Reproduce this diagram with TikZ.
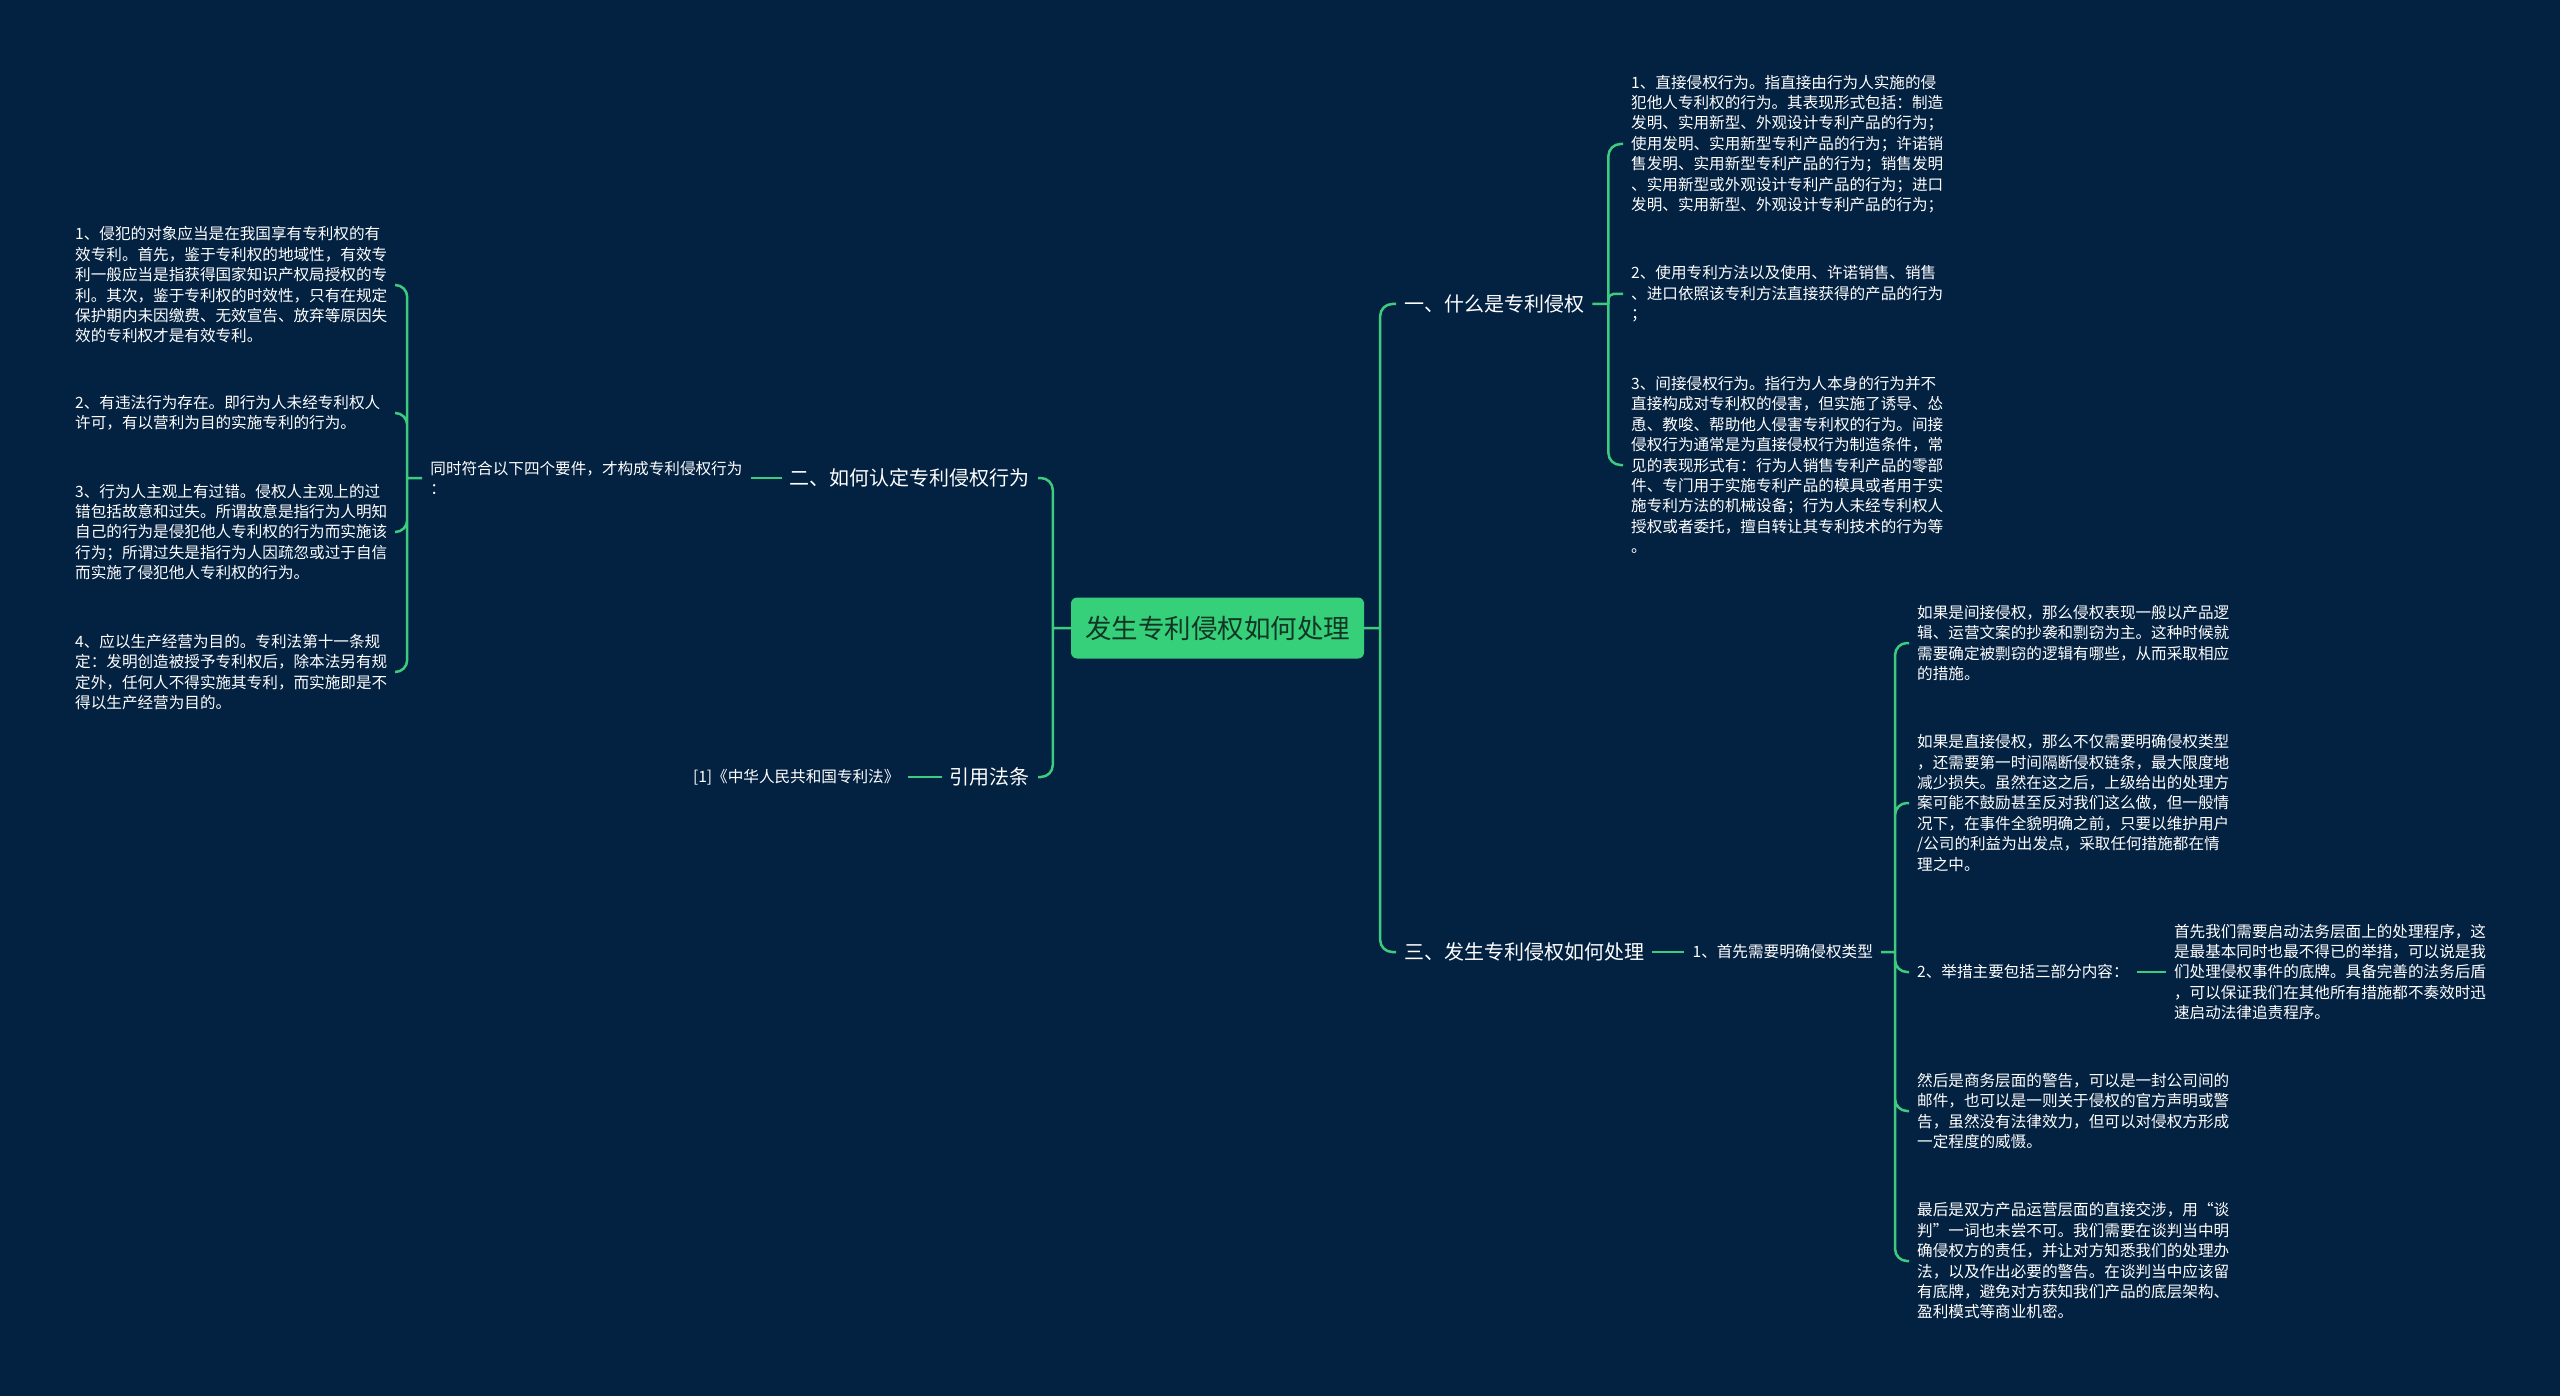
\documentclass[tikz,border=0pt]{standalone}
\usepackage{fontspec}
\newfontfamily\cjk{Noto Sans CJK SC}
\usetikzlibrary{positioning}
\definecolor{bgnavy}{HTML}{032140}
\definecolor{mapgreen}{HTML}{3CCB7F}
\definecolor{rootgreen}{HTML}{36D07B}
\definecolor{rootink}{HTML}{123524}

\begin{document}
\begin{tikzpicture}[
    x=1pt, y=-1pt,
    topic/.style={fill=rootgreen,rounded corners=6pt,minimum width=293pt,minimum height=61pt,inner sep=0pt,text=rootink,font=\cjk\fontsize{26.5pt}{30pt}\selectfont},
    branch/.style={text=white,inner xsep=8pt,inner ysep=2pt,font=\cjk\fontsize{20pt}{24pt}\selectfont},
    leaf/.style={text=white,inner xsep=8pt,inner ysep=0pt,align=left,font=\cjk\fontsize{15.6pt}{20.4pt}\selectfont},
    block/.style={leaf,text width=312pt},
    link/.style={draw=mapgreen,line width=2.5pt,rounded corners=12pt}
  ]
  \fill[bgnavy] (0,0) rectangle (2560,1396);
  \useasboundingbox (0,0) rectangle (2560,1396);

  % centre
  \node[topic] (root) at (1217.5,628) {发生专利侵权如何处理};
  \coordinate[right=16pt of root] (jr);
  \coordinate[left=18pt of root] (jl);

  \node[branch, anchor=west] (what) at (1396,304) {一、什么是专利侵权};
  \node[branch, anchor=west] (handle) at (1396,952) {三、发生专利侵权如何处理};
  \node[branch, anchor=east] (judge) at (1038,478) {二、如何认定专利侵权行为};
  \node[branch, anchor=east] (cite) at (1038,777) {引用法条};

  % 一
  \coordinate[right=16pt of what] (j1);
  \node[block, anchor=west] (direct) at (1623,144) {1、直接侵权行为。指直接由行为人实施的侵\\犯他人专利权的行为。其表现形式包括：制造\\发明、实用新型、外观设计专利产品的行为；\\使用发明、实用新型专利产品的行为；许诺销\\售发明、实用新型专利产品的行为；销售发明\\、实用新型或外观设计专利产品的行为；进口\\发明、实用新型、外观设计专利产品的行为；};
  \node[block, anchor=west] (method) at (1623,294) {2、使用专利方法以及使用、许诺销售、销售\\、进口依照该专利方法直接获得的产品的行为\\；};
  \node[block, anchor=west] (indirect) at (1623,465) {3、间接侵权行为。指行为人本身的行为并不\\直接构成对专利权的侵害，但实施了诱导、怂\\恿、教唆、帮助他人侵害专利权的行为。间接\\侵权行为通常是为直接侵权行为制造条件，常\\见的表现形式有：行为人销售专利产品的零部\\件、专门用于实施专利产品的模具或者用于实\\施专利方法的机械设备；行为人未经专利权人\\授权或者委托，擅自转让其专利技术的行为等\\。};

  % 二
  \node[leaf, left=31pt of judge] (rule) {同时符合以下四个要件，才构成专利侵权行为\\：};
  \coordinate[left=15pt of rule] (j2);
  \node[block, anchor=west] (object) at (67,285) {1、侵犯的对象应当是在我国享有专利权的有\\效专利。首先，鉴于专利权的地域性，有效专\\利一般应当是指获得国家知识产权局授权的专\\利。其次，鉴于专利权的时效性，只有在规定\\保护期内未因缴费、无效宣告、放弃等原因失\\效的专利权才是有效专利。};
  \node[block, anchor=west] (illegal) at (67,413) {2、有违法行为存在。即行为人未经专利权人\\许可，有以营利为目的实施专利的行为。};
  \node[block, anchor=west] (fault) at (67,532) {3、行为人主观上有过错。侵权人主观上的过\\错包括故意和过失。所谓故意是指行为人明知\\自己的行为是侵犯他人专利权的行为而实施该\\行为；所谓过失是指行为人因疏忽或过于自信\\而实施了侵犯他人专利权的行为。};
  \node[block, anchor=west] (purpose) at (67,672) {4、应以生产经营为目的。专利法第十一条规\\定：发明创造被授予专利权后，除本法另有规\\定外，任何人不得实施其专利，而实施即是不\\得以生产经营为目的。};

  % 引用法条
  \node[leaf, left=34pt of cite] (law) {[1]《中华人民共和国专利法》};

  % 三
  \node[leaf, right=32pt of handle] (type) {1、首先需要明确侵权类型};
  \coordinate[right=14pt of type] (j3);
  \node[block, anchor=west] (indir) at (1909,643) {如果是间接侵权，那么侵权表现一般以产品逻\\辑、运营文案的抄袭和剽窃为主。这种时候就\\需要确定被剽窃的逻辑有哪些，从而采取相应\\的措施。};
  \node[block, anchor=west] (dir) at (1909,803) {如果是直接侵权，那么不仅需要明确侵权类型\\，还需要第一时间隔断侵权链条，最大限度地\\减少损失。虽然在这之后，上级给出的处理方\\案可能不鼓励甚至反对我们这么做，但一般情\\况下，在事件全貌明确之前，只要以维护用户\\/公司的利益为出发点，采取任何措施都在情\\理之中。};
  \node[leaf, anchor=west] (steps) at (1909,972) {2、举措主要包括三部分内容：};
  \node[block, right=29pt of steps] (legal) {首先我们需要启动法务层面上的处理程序，这\\是最基本同时也最不得已的举措，可以说是我\\们处理侵权事件的底牌。具备完善的法务后盾\\，可以保证我们在其他所有措施都不奏效时迅\\速启动法律追责程序。};
  \node[block, anchor=west] (warn) at (1909,1111) {然后是商务层面的警告，可以是一封公司间的\\邮件，也可以是一则关于侵权的官方声明或警\\告，虽然没有法律效力，但可以对侵权方形成\\一定程度的威慑。};
  \node[block, anchor=west] (talk) at (1909,1261) {最后是双方产品运营层面的直接交涉，用“谈\\判”一词也未尝不可。我们需要在谈判当中明\\确侵权方的责任，并让对方知悉我们的处理办\\法，以及作出必要的警告。在谈判当中应该留\\有底牌，避免对方获知我们产品的底层架构、\\盈利模式等商业机密。};

  % connectors
  \draw[link] (root.east) -- (jr) (jr) |- (what.west) (jr) |- (handle.west);
  \draw[link] (root.west) -- (jl) (jl) |- (judge.east) (jl) |- (cite.east);
  \draw[link] (what.east) -- (j1) (j1) |- (direct.west) (j1) |- (indirect.west);
  \draw[link, rounded corners=5pt] (j1) |- (method.west);
  \draw[link] (judge.west) -- (rule.east);
  \draw[link] (rule.west) -- (j2) (j2) |- (object.east) (j2) |- (illegal.east) (j2) |- (fault.east) (j2) |- (purpose.east);
  \draw[link] (cite.west) -- (law.east);
  \draw[link] (handle.east) -- (type.west);
  \draw[link] (type.east) -- (j3) (j3) |- (indir.west) (j3) |- (dir.west) (j3) |- (steps.west) (j3) |- (warn.west) (j3) |- (talk.west);
  \draw[link] (steps.east) -- (legal.west);
\end{tikzpicture}
\end{document}
